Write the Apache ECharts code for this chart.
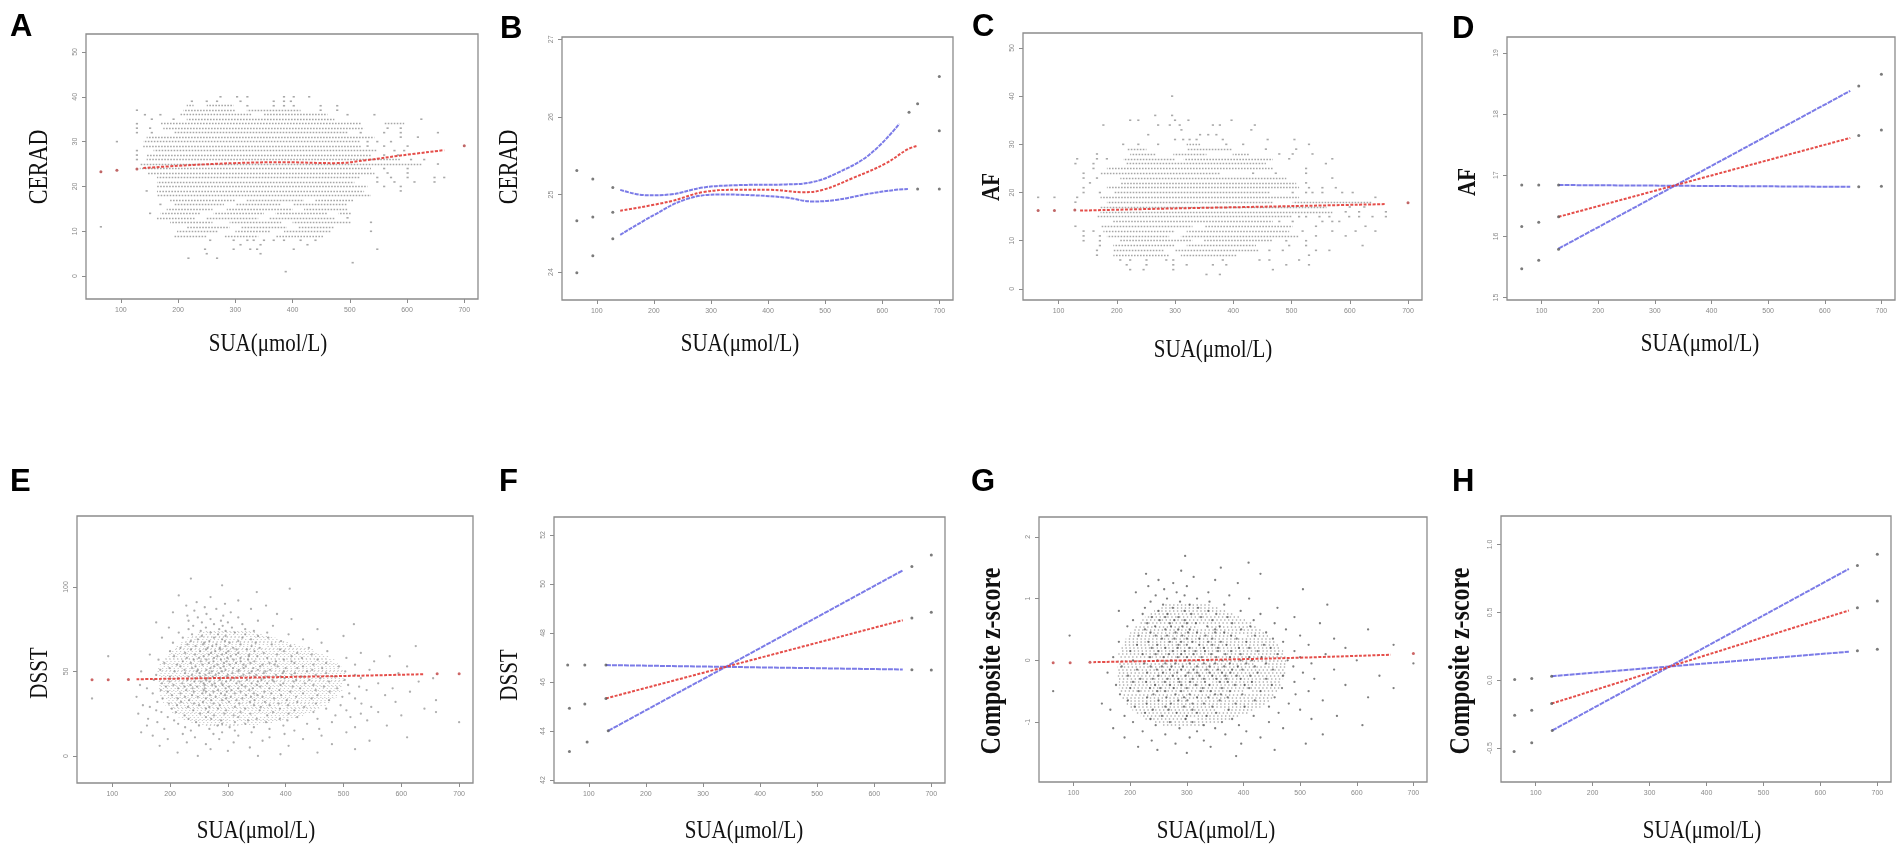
<!DOCTYPE html>
<html>
<head>
<meta charset="utf-8">
<title>SUA and cognitive scores</title>
<script src="https://cdn.jsdelivr.net/npm/echarts@6/dist/echarts.min.js"></script>
<style>
html, body { margin: 0; padding: 0; background: #fff; }
#main { width: 1904px; height: 850px; }
</style>
</head>
<body>
<div id="main"></div>
<script>
// ---- x axis: serum uric acid ----
var suaTicks = [100, 200, 300, 400, 500, 600, 700];

// ---- y tick labels per panel ----
var ceradTicks = [0, 10, 20, 30, 40, 50];
var ceradFitTicks = [24, 25, 26, 27];
var afTicks = [0, 10, 20, 30, 40, 50];
var afFitTicks = [15, 16, 17, 18, 19];
var dsstTicks = [0, 50, 100];
var dsstFitTicks = [42, 44, 46, 48, 50, 52];
var zTicks = [-1, 0, 1, 2];
var zFitTicks = [-0.5, 0, 0.5, 1];

// ---- A: CERAD raw scores, one row per integer score: [score, dense stretches of SUA, single points] ----
var ceradRows = [
  [40, [], [274, 303, 321, 385, 402, 429]],
  [39, [], [224, 250, 268, 309, 367, 385, 397]],
  [38, [[215, 227], [250, 297]], [321, 367, 385, 402, 449, 478]],
  [37, [[209, 300], [320, 414]], [128, 449, 478]],
  [36, [[204, 330], [350, 461]], [142, 169, 496, 543]],
  [35, [[215, 473]], [154, 192, 625]],
  [34, [[169, 519], [560, 595]], [128]],
  [33, [[174, 525]], [128, 151, 566, 589]],
  [32, [[192, 496]], [128, 154, 519, 560, 589, 654]],
  [31, [[145, 543]], [589, 619]],
  [30, [[139, 519]], [93, 531, 548, 572]],
  [29, [[139, 519]], [531, 560, 601]],
  [28, [[157, 548]], [128, 578, 595]],
  [27, [[145, 537]], [128, 560, 584]],
  [26, [[145, 589]], [128, 607, 630]],
  [25, [[133, 625]], [654]],
  [24, [[133, 537]], [560, 601]],
  [23, [[145, 543]], [566, 601]],
  [22, [[163, 519]], [548, 572, 601, 648, 665]],
  [21, [[163, 508]], [548, 578, 613, 648]],
  [20, [[163, 531]], [560, 589]],
  [19, [[163, 525]], [145, 589]],
  [18, [[163, 537]], []],
  [17, [[186, 300], [320, 420], [440, 508]], []],
  [16, [[192, 280], [300, 380], [400, 496]], [169]],
  [15, [[180, 260], [285, 400], [420, 496]], []],
  [14, [[169, 240], [262, 350], [370, 460], [480, 502]], [151]],
  [13, [[163, 230], [250, 340], [360, 473]], [496]],
  [12, [[186, 260], [290, 380], [400, 502]], [537]],
  [11, [[215, 290], [310, 390], [410, 473]], [65]],
  [10, [[198, 270], [300, 360], [385, 467]], [537]],
  [9, [[192, 250], [280, 340], [370, 455]], []],
  [8, [], [256, 297, 321, 332, 350, 367, 385, 414, 440]],
  [7, [], [309, 344, 426]],
  [6, [], [247, 297, 326, 338, 402, 548]],
  [5, [], [250, 344]],
  [4, [], [218, 268]],
  [3, [], [505]],
  [1, [], [388]]
];
var ceradFit = [[139, 24.1], [200, 24.6], [297, 25.2], [385, 25.4], [473, 25.2], [531, 25.9], [589, 26.9], [665, 28.1]];
var ceradFitDots = [[65, 23.3], [93, 23.6], [128, 23.9], [700, 29.1]];

// ---- B: CERAD smooth fit with confidence band ----
var ceradSmooth = [[141, 24.79], [228, 24.91], [286, 25.03], [345, 25.06], [403, 25.06], [461, 25.03], [496, 25.06], [548, 25.21], [606, 25.40], [644, 25.58], [662, 25.63]];
var ceradSmoothDots = [[65, 24.66], [93, 24.71], [128, 24.77], [700, 25.82]];
var ceradUpper = [[141, 25.06], [188, 24.99], [228, 25.00], [286, 25.09], [345, 25.12], [432, 25.13], [478, 25.16], [519, 25.27], [577, 25.51], [630, 25.91]];
var ceradUpperDots = [[65, 25.31], [93, 25.20], [128, 25.09], [647, 26.06], [662, 26.17], [700, 26.52]];
var ceradLower = [[141, 24.48], [199, 24.73], [257, 24.94], [316, 25.00], [374, 24.99], [432, 24.96], [478, 24.91], [519, 24.93], [577, 25.01], [624, 25.06], [645, 25.07]];
var ceradLowerDots = [[65, 23.99], [93, 24.21], [128, 24.43], [662, 25.07], [700, 25.07]];

// ---- C: AF raw scores ----
var afRows = [
  [40, [], [295]],
  [36, [], [266, 295]],
  [35, [], [223, 237, 300, 323, 397]],
  [34, [], [177, 271, 291, 308, 365, 377, 437]],
  [33, [], [311, 431]],
  [32, [], [254, 343, 357, 371]],
  [31, [], [300, 314, 325, 337, 382, 459, 505]],
  [30, [[320, 343]], [211, 237, 271, 388, 417, 530]],
  [29, [[217, 251], [320, 399]], [456, 508]],
  [28, [[223, 268], [297, 354], [399, 428]], [166, 479, 502, 536]],
  [27, [[211, 300], [315, 468]], [132, 166, 183, 496, 570]],
  [26, [[217, 456]], [129, 160, 559]],
  [25, [[183, 468]], [160, 525]],
  [24, [[172, 377]], [143, 434, 473, 525]],
  [23, [[206, 491]], [143, 166, 570]],
  [22, [[206, 508]], [154, 525]],
  [21, [[183, 513]], [143, 530, 553, 576]],
  [20, [[194, 462]], [143, 171, 502, 525, 536, 553, 587, 605]],
  [19, [[172, 513]], [65, 93, 132, 644]],
  [18, [[183, 468], [502, 639]], [129]],
  [17, [[172, 560]], [600, 625]],
  [16, [[172, 570]], [593, 616, 662]],
  [15, [[166, 502]], [513, 525, 548, 565, 599, 616, 639, 662]],
  [14, [[194, 468]], [479, 502, 553, 570, 582]],
  [13, [[172, 330], [350, 502]], [129, 542, 627]],
  [12, [[177, 300], [320, 496]], [143, 160, 519, 570, 610, 644]],
  [11, [[183, 290], [310, 513]], [143, 171, 542, 593]],
  [10, [[206, 330], [350, 468]], [143, 171, 491, 525]],
  [9, [[194, 300], [320, 439]], [171, 496, 525, 622]],
  [8, [[194, 280], [300, 445]], [166, 462, 485, 542, 565]],
  [7, [[194, 290], [310, 405]], [166, 530]],
  [6, [], [206, 223, 251, 285, 297, 382, 445, 462, 513]],
  [5, [], [217, 251, 297, 320, 365, 388, 491, 530]],
  [4, [], [223, 246, 297, 468]],
  [3, [], [354, 377]]
];
var afFit = [[137, 16.25], [297, 16.7], [468, 17.1], [662, 17.6]];
var afFitDots = [[65, 16.25], [93, 16.25], [128, 16.4], [700, 17.9]];

// ---- D: AF linear fit with confidence limits ----
var afLine = [[130, 16.32], [645, 17.61]];
var afLineDots = [[65, 16.16], [95, 16.23], [130, 16.32], [660, 17.65], [700, 17.74]];
var afCiSteep = [[130, 15.80], [645, 18.38]];
var afCiSteepDots = [[65, 15.47], [95, 15.61], [130, 15.79], [660, 18.46], [700, 18.65]];
var afCiFlat = [[130, 16.84], [645, 16.81]];
var afCiFlatDots = [[65, 16.84], [95, 16.84], [130, 16.84], [660, 16.81], [700, 16.82]];

// ---- E: DSST raw scores, [score, SUA values] ----
var dsstRows = [
  [0, [248, 352]], [1, [391]], [2, [213, 455]], [3, [300]], [4, [270, 520]], [5, [338]],
  [6, [182, 405]], [7, [262, 480]], [8, [310, 229]], [9, [360, 545]], [10, [196, 285, 430]],
  [11, [243, 372, 610]], [12, [318, 170, 462]], [13, [275, 398, 222]], [14, [150, 341, 505, 290]],
  [15, [236, 312, 415]], [16, [268, 190, 372, 458]], [17, [303, 226, 520, 345]],
  [18, [160, 282, 396, 250, 575]], [19, [330, 214, 437, 290]], [20, [245, 366, 178, 480, 700, 312]],
  [21, [288, 207, 403, 335, 541]], [22, [232, 350, 271, 455, 162, 390]], [23, [318, 196, 262, 420, 512]],
  [24, [276, 368, 225, 310, 486, 600]], [25, [145, 252, 339, 405, 294, 530]],
  [26, [210, 322, 266, 448, 378, 185, 560, 660]], [27, [297, 240, 355, 415, 505, 176]],
  [28, [262, 330, 203, 390, 470, 283, 640]], [29, [231, 312, 357, 268, 432, 165, 548]],
  [30, [286, 345, 212, 404, 250, 495, 372, 153]], [31, [320, 241, 275, 388, 198, 452, 531]],
  [32, [257, 302, 364, 219, 420, 338, 178, 590]], [33, [290, 233, 346, 402, 271, 475, 315, 660]],
  [34, [213, 262, 380, 325, 445, 187, 297, 520, 65]], [35, [305, 248, 360, 279, 418, 226, 498, 340, 142]],
  [36, [269, 331, 203, 392, 295, 455, 238, 351, 572]], [37, [312, 256, 375, 218, 430, 288, 345, 510, 170]],
  [38, [241, 298, 363, 275, 408, 196, 322, 476, 262, 615]], [39, [283, 337, 228, 389, 306, 452, 258, 184, 540]],
  [40, [260, 318, 372, 214, 296, 425, 343, 489, 239, 160, 585]], [41, [302, 247, 356, 279, 412, 193, 330, 466, 225, 527]],
  [42, [273, 324, 235, 391, 291, 448, 350, 206, 508, 260, 148]], [43, [315, 258, 368, 289, 433, 221, 341, 396, 186, 560, 277]],
  [44, [242, 297, 352, 268, 414, 320, 475, 199, 380, 253, 630]], [45, [286, 333, 230, 377, 305, 441, 262, 358, 502, 172, 418]],
  [46, [265, 311, 362, 243, 398, 287, 460, 214, 338, 530, 276, 655]], [47, [298, 252, 346, 391, 274, 428, 322, 200, 485, 368, 232]],
  [48, [279, 327, 238, 383, 300, 452, 261, 349, 176, 520, 410]], [49, [251, 308, 362, 284, 416, 226, 337, 470, 268, 395, 595]],
  [50, [290, 246, 341, 397, 272, 437, 318, 208, 503, 365, 150]], [51, [263, 319, 225, 373, 296, 446, 248, 352, 545, 183]],
  [52, [309, 270, 344, 400, 238, 463, 287, 327, 199, 420]], [53, [244, 293, 356, 276, 430, 218, 331, 492, 386, 610]],
  [54, [282, 327, 256, 381, 303, 448, 212, 360, 520]], [55, [267, 314, 236, 372, 293, 415, 190, 339, 470]],
  [56, [298, 253, 346, 410, 275, 222, 383, 553, 322]], [57, [241, 288, 335, 263, 397, 310, 455, 180]],
  [58, [276, 322, 229, 368, 299, 428, 250, 505]], [59, [258, 305, 351, 282, 410, 207, 336, 580, 93]],
  [60, [290, 243, 337, 385, 267, 445, 314, 165]], [61, [271, 318, 226, 362, 297, 420, 530]],
  [62, [252, 301, 346, 278, 397, 200, 472]], [63, [287, 236, 333, 390, 262, 315]],
  [64, [265, 309, 218, 355, 440, 286]], [65, [244, 296, 341, 273, 408, 625]],
  [66, [280, 230, 322, 376, 257]], [67, [303, 259, 348, 205, 462]], [68, [268, 318, 236, 392, 295]],
  [69, [248, 290, 340, 430]], [70, [276, 222, 325, 370, 186]], [71, [296, 255, 352, 500]],
  [72, [238, 283, 330, 405]], [73, [270, 312, 215, 368]], [74, [253, 296, 345]], [75, [285, 232, 330, 455]],
  [76, [262, 307, 198]], [77, [240, 291, 378]], [78, [276, 325, 518]], [79, [255, 300, 176]],
  [80, [232, 288, 352]], [81, [270, 410]], [82, [248, 318]], [83, [292, 230]], [84, [263, 385]],
  [85, [305, 205]], [86, [242]], [87, [280, 340]], [88, [260]], [89, [228, 366]], [90, [295]],
  [91, [246]], [92, [318]], [94, [270]], [95, [215]], [97, [350]], [99, [407]], [101, [290]], [105, [236]]
];
// dense core of the DSST cloud: [score, stretches of SUA where points overlap]
var dsstCore = [
  [18, [[262, 318]]], [19, [[245, 352]]], [20, [[236, 300], [326, 380]]], [21, [[230, 392]]],
  [22, [[222, 300], [318, 402]]], [23, [[215, 420]]], [24, [[222, 350], [365, 430]]], [25, [[208, 432]]],
  [26, [[200, 330], [342, 446]]], [27, [[212, 452]]], [28, [[196, 458]]], [29, [[204, 385], [400, 462]]],
  [30, [[192, 470]]], [31, [[200, 460]]], [32, [[188, 300], [312, 476]]], [33, [[194, 480]]],
  [34, [[186, 484]]], [35, [[192, 410], [422, 488]]], [36, [[182, 490]]], [37, [[188, 486]]],
  [38, [[180, 494]]], [39, [[186, 350], [362, 498]]], [40, [[178, 492]]], [41, [[184, 500]]],
  [42, [[178, 496]]], [43, [[182, 280], [292, 502]]], [44, [[176, 498]]], [45, [[180, 504]]],
  [46, [[176, 500]]], [47, [[182, 506]]], [48, [[175, 400], [412, 500]]], [49, [[180, 504]]],
  [50, [[178, 498]]], [51, [[182, 502]]], [52, [[178, 492]]], [53, [[184, 330], [342, 496]]],
  [54, [[180, 488]]], [55, [[186, 490]]], [56, [[184, 480]]], [57, [[192, 484]]],
  [58, [[188, 472]]], [59, [[196, 300], [315, 474]]], [60, [[194, 464]]], [61, [[200, 458]]],
  [62, [[198, 448]]], [63, [[206, 450]]], [64, [[210, 436]]], [65, [[208, 350], [365, 430]]],
  [66, [[218, 420]]], [67, [[215, 408]]], [68, [[225, 400]]], [69, [[230, 390]]],
  [70, [[228, 330], [345, 382]]], [71, [[238, 370]]], [72, [[245, 362]]], [73, [[250, 350]]], [74, [[258, 338]]]
];
var dsstFit = [[142, 45.4], [483, 47.2], [640, 48.4]];
var dsstFitDots = [[65, 45.1], [93, 45.1], [128, 45.2], [662, 48.6], [700, 48.6]];

// ---- F: DSST linear fit with confidence limits ----
var dsstLine = [[130, 45.33], [650, 48.52]];
var dsstLineDots = [[66, 44.93], [93, 45.10], [130, 45.33], [666, 48.61], [700, 48.84]];
var dsstCiSteep = [[134, 44.01], [650, 50.55]];
var dsstCiSteepDots = [[66, 43.16], [97, 43.55], [134, 44.01], [666, 50.71], [700, 51.18]];
var dsstCiFlat = [[130, 46.69], [650, 46.51]];
var dsstCiFlatDots = [[63, 46.69], [93, 46.69], [130, 46.69], [666, 46.50], [700, 46.49]];

// ---- G: composite z-score raw values, [z, SUA values] ----
var zRows = [
  [-1.55, [387]], [-1.50, [300]], [-1.45, [248, 455]], [-1.40, [214, 342]], [-1.35, [280, 510, 396]],
  [-1.30, [238, 330]], [-1.25, [305, 190, 430]], [-1.20, [262, 368, 540]], [-1.15, [222, 318, 405]],
  [-1.10, [287, 350, 170, 470]], [-1.05, [245, 330, 392, 610]], [-1.00, [270, 205, 362, 445, 310]],
  [-0.95, [298, 236, 380, 520]], [-0.90, [256, 335, 190, 418, 300, 565]], [-0.85, [282, 226, 352, 462, 318]],
  [-0.80, [240, 310, 374, 268, 500, 165]], [-0.75, [295, 208, 345, 402, 262, 445]],
  [-0.70, [272, 330, 229, 386, 310, 480, 150]], [-0.65, [250, 301, 358, 285, 420, 196, 540]],
  [-0.60, [318, 264, 372, 230, 338, 455, 295, 620]], [-0.55, [280, 241, 350, 305, 398, 182, 492, 360]],
  [-0.50, [262, 325, 290, 215, 376, 430, 342, 248, 515, 64]], [-0.45, [300, 253, 362, 277, 410, 328, 200, 468, 235, 665]],
  [-0.40, [244, 316, 270, 385, 340, 290, 450, 175, 402, 580]], [-0.35, [287, 332, 228, 358, 261, 415, 306, 490, 372, 205]],
  [-0.30, [266, 310, 352, 240, 395, 285, 330, 440, 218, 525, 370]], [-0.25, [322, 275, 250, 368, 298, 412, 345, 196, 470, 388, 640]],
  [-0.20, [258, 303, 340, 283, 377, 230, 425, 318, 362, 505, 160]], [-0.15, [290, 247, 335, 270, 398, 312, 355, 212, 452, 380, 560]],
  [-0.10, [273, 318, 236, 366, 293, 420, 340, 256, 488, 390, 185]], [-0.05, [305, 262, 350, 280, 405, 225, 330, 376, 440, 520, 700]],
  [0.00, [248, 297, 338, 272, 362, 415, 320, 205, 478, 395, 600]], [0.05, [284, 326, 259, 376, 300, 432, 235, 352, 500, 170, 410]],
  [0.10, [268, 312, 343, 290, 395, 222, 368, 460, 245, 545]], [0.15, [296, 250, 332, 378, 275, 425, 315, 200, 490, 355]],
  [0.20, [262, 305, 355, 238, 392, 284, 448, 330, 580, 410]], [0.25, [285, 322, 248, 370, 300, 436, 212, 345, 515, 665]],
  [0.30, [270, 310, 232, 360, 290, 405, 338, 470, 180]], [0.35, [300, 256, 345, 388, 278, 452, 322, 560]],
  [0.40, [245, 292, 333, 265, 378, 215, 420, 500, 93]], [0.45, [280, 318, 236, 366, 302, 440, 350]],
  [0.50, [262, 305, 350, 226, 396, 285, 475, 620]], [0.55, [292, 244, 336, 272, 412, 195, 358]],
  [0.60, [270, 316, 230, 380, 300, 455, 535]], [0.65, [252, 296, 345, 278, 418, 205]],
  [0.70, [285, 238, 325, 372, 262, 490]], [0.75, [266, 308, 222, 352, 430]], [0.80, [296, 250, 338, 395, 180]],
  [0.85, [275, 226, 320, 460]], [0.90, [258, 305, 366, 548]], [0.95, [288, 236, 340]], [1.00, [265, 318, 410]],
  [1.05, [245, 296, 375]], [1.10, [282, 210, 338]], [1.15, [260, 505]], [1.20, [300, 232]], [1.25, [276, 390]],
  [1.30, [250, 350]], [1.35, [312]], [1.40, [228, 430]], [1.45, [290]], [1.50, [360]], [1.58, [409]], [1.69, [297]]
];
// dense core of the z-score cloud
var zCore = [
  [-1.05, [[258, 330]]], [-1.00, [[240, 360]]], [-0.95, [[226, 300], [318, 380]]],
  [-0.90, [[218, 395]]], [-0.85, [[210, 408]]], [-0.80, [[204, 350], [366, 420]]], [-0.75, [[198, 430]]],
  [-0.70, [[194, 438]]], [-0.65, [[190, 300], [315, 446]]], [-0.60, [[186, 452]]], [-0.55, [[184, 456]]],
  [-0.50, [[182, 400], [414, 460]]], [-0.45, [[180, 464]]], [-0.40, [[178, 466]]], [-0.35, [[180, 330], [345, 468]]],
  [-0.30, [[177, 470]]], [-0.25, [[178, 472]]], [-0.20, [[176, 280], [295, 474]]], [-0.15, [[178, 475]]],
  [-0.10, [[177, 474]]], [-0.05, [[179, 420], [435, 476]]], [0.00, [[178, 478]]], [0.05, [[180, 474]]],
  [0.10, [[179, 350], [364, 472]]], [0.15, [[182, 470]]], [0.20, [[184, 466]]], [0.25, [[186, 300], [316, 462]]],
  [0.30, [[189, 458]]], [0.35, [[192, 452]]], [0.40, [[196, 390], [404, 446]]], [0.45, [[200, 438]]],
  [0.50, [[204, 432]]], [0.55, [[209, 320], [336, 424]]], [0.60, [[214, 416]]], [0.65, [[220, 406]]],
  [0.70, [[226, 396]]], [0.75, [[234, 340], [355, 384]]], [0.80, [[242, 372]]], [0.85, [[252, 358]]],
  [0.90, [[262, 342]]]
];
var zFit = [[135, -0.03], [450, 0.03], [660, 0.09]];
var zFitDots = [[64, -0.04], [94, -0.04], [129, -0.03], [700, 0.11]];

// ---- H: composite z-score linear fit with confidence limits ----
var zLine = [[128, -0.172], [650, 0.514]];
var zLineDots = [[63, -0.259], [93, -0.222], [128, -0.172], [665, 0.534], [700, 0.584]];
var zCiSteep = [[129, -0.37], [650, 0.82]];
var zCiSteepDots = [[62, -0.525], [93, -0.46], [129, -0.37], [665, 0.845], [700, 0.929]];
var zCiFlat = [[128, 0.03], [650, 0.21]];
var zCiFlatDots = [[63, 0.005], [93, 0.012], [128, 0.03], [665, 0.217], [700, 0.229]];

// ---------------- layout ----------------
var RED = '#e23b36', BLUE = '#6d6de4', DOT = '#5a5a5a';
var serif = '"Liberation Serif", "Times New Roman", serif';

var panels = [
  {letter: 'A', lx: 10, ly: 12, box: [86, 34, 392, 265], y: [-5.1, 54], ticks: ceradTicks,
   yTitle: 'CERAD', tx: 40, ty: 167, tsize: 22, bold: false, xx: 268, xy: 344},
  {letter: 'B', lx: 500, ly: 14, box: [562, 37, 391, 263], y: [23.64, 27.03], ticks: ceradFitTicks,
   yTitle: 'CERAD', tx: 510, ty: 167, tsize: 22, bold: false, xx: 740, xy: 344},
  {letter: 'C', lx: 972, ly: 12, box: [1023, 33, 399, 267], y: [-2.3, 53.1], ticks: afTicks,
   yTitle: 'AF', tx: 992, ty: 187, tsize: 21, bold: true, xx: 1213, xy: 350},
  {letter: 'D', lx: 1452, ly: 14, box: [1507, 37, 388, 263], y: [14.96, 19.26], ticks: afFitTicks,
   yTitle: 'AF', tx: 1468, ty: 182, tsize: 21, bold: true, xx: 1700, xy: 344},
  {letter: 'E', lx: 10, ly: 467, box: [77, 516, 396, 267], y: [-16, 142], ticks: dsstTicks,
   yTitle: 'DSST', tx: 40, ty: 673, tsize: 21, bold: false, xx: 256, xy: 831},
  {letter: 'F', lx: 499, ly: 467, box: [554, 517, 391, 266], y: [41.88, 52.73], ticks: dsstFitTicks,
   yTitle: 'DSST', tx: 510, ty: 675, tsize: 21, bold: false, xx: 744, xy: 831},
  {letter: 'G', lx: 971, ly: 467, box: [1039, 517, 388, 265], y: [-1.97, 2.32], ticks: zTicks,
   yTitle: 'Composite z-score', tx: 993, ty: 661, tsize: 24, bold: true, xx: 1216, xy: 831},
  {letter: 'H', lx: 1452, ly: 467, box: [1501, 516, 390, 266], y: [-0.75, 1.21], ticks: zFitTicks, fixed1: true,
   yTitle: 'Composite z-score', tx: 1462, ty: 661, tsize: 24, bold: true, xx: 1702, xy: 831}
];

var grids = [], xAxes = [], yAxes = [], series = [], graphics = [];

panels.forEach(function (p, i) {
  grids.push({left: p.box[0], top: p.box[1], width: p.box[2], height: p.box[3],
    show: true, borderColor: '#8c8c8c', borderWidth: 1.3, backgroundColor: '#fff'});
  xAxes.push({type: 'value', gridIndex: i, min: 39, max: 724, position: 'bottom',
    axisLine: {show: false, onZero: false}, splitLine: {show: false},
    axisTick: {show: true, length: 4, lineStyle: {color: '#8c8c8c'}, customValues: suaTicks},
    axisLabel: {customValues: suaTicks, fontSize: 7, color: '#8a8a8a', margin: 8, fontFamily: 'Liberation Sans'}});
  yAxes.push({type: 'value', gridIndex: i, min: p.y[0], max: p.y[1], position: 'left',
    axisLine: {show: false, onZero: false}, splitLine: {show: false},
    axisTick: {show: true, length: 4, lineStyle: {color: '#8c8c8c'}, customValues: p.ticks},
    axisLabel: {customValues: p.ticks, rotate: 90, fontSize: 7, color: '#8a8a8a', margin: 7,
      fontFamily: 'Liberation Sans',
      formatter: p.fixed1 ? function (v) { return v.toFixed(1); } : null}});

  graphics.push({type: 'text', x: p.lx, y: p.ly, silent: true,
    style: {text: p.letter, font: 'bold 31px "Liberation Sans", Arial, sans-serif', fill: '#000',
      textAlign: 'left', textVerticalAlign: 'top', align: 'left', verticalAlign: 'top'}});
  graphics.push({type: 'text', x: p.tx, y: p.ty, rotation: Math.PI / 2, scaleY: 1.2, silent: true,
    style: {text: p.yTitle, font: (p.bold ? 'bold ' : '') + p.tsize + 'px ' + serif, fill: '#111',
      textAlign: 'center', textVerticalAlign: 'middle', align: 'center', verticalAlign: 'middle'}});
  graphics.push({type: 'text', x: p.xx, y: p.xy, scaleY: 1.2, silent: true,
    style: {text: 'SUA(\u03bcmol/L)', font: '21px ' + serif, fill: '#111',
      textAlign: 'center', textVerticalAlign: 'middle', align: 'center', verticalAlign: 'middle'}});
});

function base(i, extra) {
  var s = {xAxisIndex: i, yAxisIndex: i, silent: true, animation: false};
  for (var k in extra) s[k] = extra[k];
  return s;
}
// one horizontal stretch per row segment; the dash phase shifts row by row so the texture does not line up
function rowLines(rows) {
  var out = [];
  rows.forEach(function (r, k) {
    r[1].forEach(function (seg) {
      out.push({coords: [[seg[0], r[0]], [seg[1], r[0]]], lineStyle: {dashOffset: (k * 1.7) % 3.9}});
    });
  });
  return out;
}
function rowPoints(rows) {
  var out = [];
  rows.forEach(function (r) {
    var xs = r.length === 3 ? r[2] : r[1];
    xs.forEach(function (x) { out.push([x, r[0]]); });
  });
  return out;
}
function curve(i, data, color, dash, smooth) {
  series.push(base(i, {type: 'line', data: data, showSymbol: false, smooth: smooth || false, z: 5,
    lineStyle: {color: color, width: 2, type: dash, opacity: 0.9}}));
}
function dots(i, data, color, size) {
  series.push(base(i, {type: 'scatter', data: data, symbolSize: size || 3, z: 6,
    itemStyle: {color: color}}));
}
function rowCloud(i, rows) {
  series.push(base(i, {type: 'lines', coordinateSystem: 'cartesian2d', data: rowLines(rows), z: 2,
    lineStyle: {color: '#a6a6a6', width: 1.3, type: [1.6, 1.4], opacity: 1}}));
  series.push(base(i, {type: 'scatter', data: rowPoints(rows), symbol: 'rect', symbolSize: [2.2, 1.6], z: 2,
    itemStyle: {color: '#939393'}}));
}
function coreCloud(i, rows, color, width, dash) {
  series.push(base(i, {type: 'lines', coordinateSystem: 'cartesian2d', data: rowLines(rows), z: 1,
    lineStyle: {color: color, width: width, type: dash, opacity: 1}}));
}
function pointCloud(i, rows, color) {
  series.push(base(i, {type: 'scatter', data: rowPoints(rows), symbolSize: 2.3, z: 2,
    itemStyle: {color: color}}));
}

// A
rowCloud(0, ceradRows);
curve(0, ceradFit, RED, [3, 1.5], 0.4);
dots(0, ceradFitDots, '#b04040');
// B
curve(1, ceradUpper, BLUE, [4, 1], 0.4);
curve(1, ceradLower, BLUE, [4, 1], 0.4);
curve(1, ceradSmooth, RED, [3, 1.5], 0.4);
dots(1, ceradUpperDots, DOT);
dots(1, ceradLowerDots, DOT);
dots(1, ceradSmoothDots, DOT);
// C
rowCloud(2, afRows);
curve(2, afFit, RED, [3, 1.5], 0.3);
dots(2, afFitDots, '#b04040');
// D
curve(3, afCiSteep, BLUE, [5, 1]);
curve(3, afCiFlat, BLUE, [5, 1]);
curve(3, afLine, RED, [3, 1.5]);
dots(3, afCiSteepDots, DOT);
dots(3, afCiFlatDots, DOT);
dots(3, afLineDots, DOT);
// E
coreCloud(4, dsstCore, 'rgba(130,130,130,0.4)', 1.2, [1.3, 2.6]);
pointCloud(4, dsstRows, 'rgba(120,120,120,0.75)');
curve(4, dsstFit, RED, [3, 1.5], 0.3);
dots(4, dsstFitDots, '#c04040');
// F
curve(5, dsstCiSteep, BLUE, [5, 1]);
curve(5, dsstCiFlat, BLUE, [5, 1]);
curve(5, dsstLine, RED, [3, 1.5]);
dots(5, dsstCiSteepDots, DOT);
dots(5, dsstCiFlatDots, DOT);
dots(5, dsstLineDots, DOT);
// G
coreCloud(6, zCore, 'rgba(50,50,50,0.38)', 1.5, [1.4, 2.5]);
pointCloud(6, zRows, 'rgba(40,40,40,0.75)');
curve(6, zFit, RED, [3, 1.5], 0.3);
dots(6, zFitDots, '#c04040');
// H
curve(7, zCiSteep, BLUE, [5, 1]);
curve(7, zCiFlat, BLUE, [5, 1]);
curve(7, zLine, RED, [3, 1.5]);
dots(7, zCiSteepDots, DOT);
dots(7, zCiFlatDots, DOT);
dots(7, zLineDots, DOT);

var chart = echarts.init(document.getElementById('main'));
chart.setOption({
  animation: false,
  backgroundColor: '#fff',
  grid: grids,
  xAxis: xAxes,
  yAxis: yAxes,
  series: series,
  graphic: {elements: graphics}
});
</script>
</body>
</html>
